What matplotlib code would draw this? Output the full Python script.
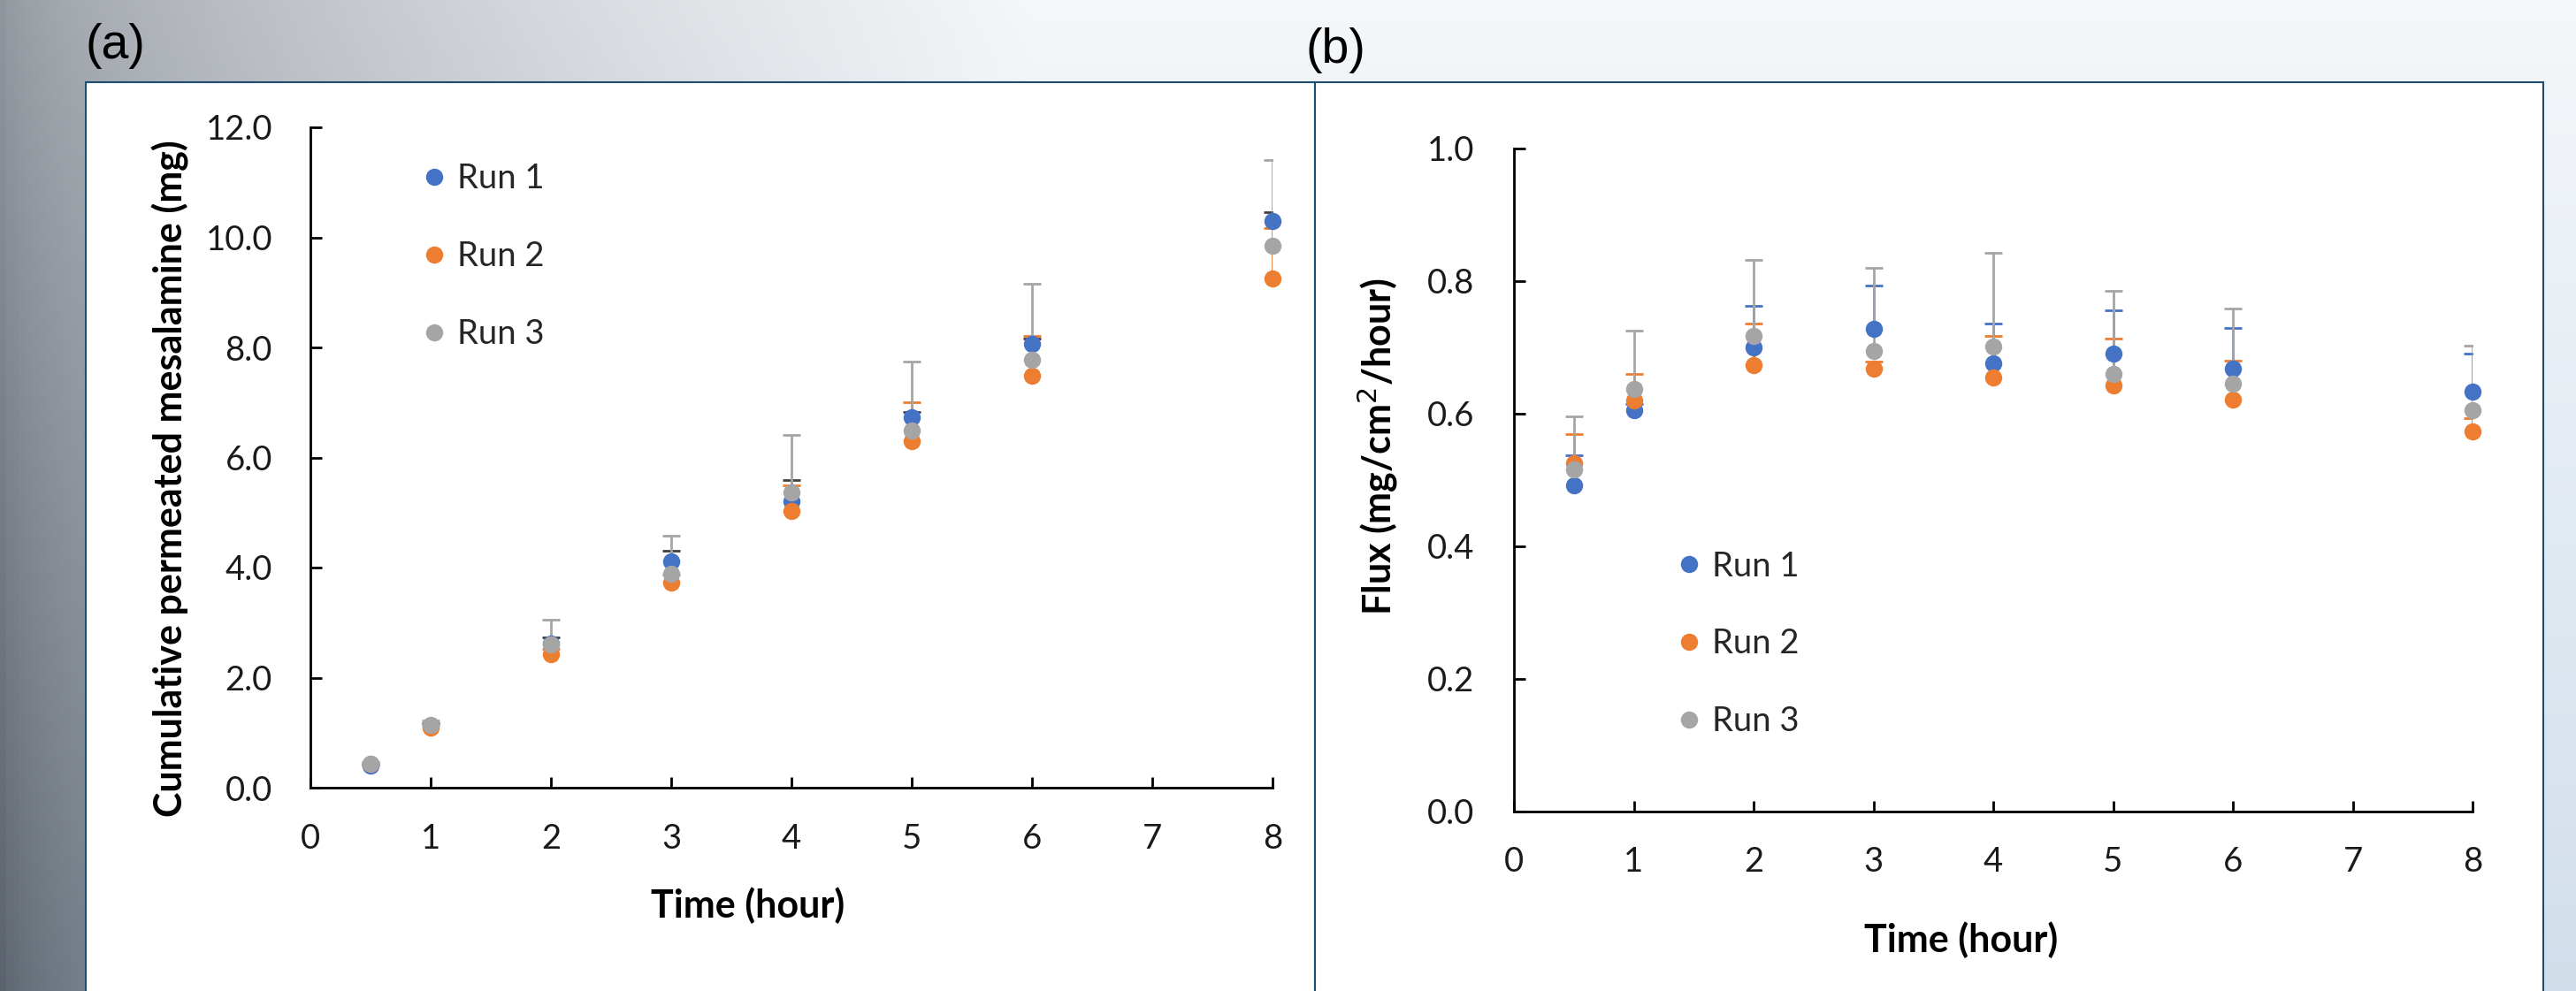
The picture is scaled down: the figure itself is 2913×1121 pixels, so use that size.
import matplotlib.pyplot as plt
import numpy as np
from matplotlib.patches import Rectangle

plt.rcParams['font.family'] = ['Lato', 'DejaVu Sans']

# sampling times (hour)
time = [0.5, 1, 2, 3, 4, 5, 6, 8]
runs = ['Run 1', 'Run 2', 'Run 3']

# (a) cumulative permeated mesalamine (mg)
cum_run1 = [0.40, 1.12, 2.62, 4.11, 5.21, 6.73, 8.06, 10.30]
cum_run2 = [0.44, 1.10, 2.42, 3.72, 5.03, 6.30, 7.49, 9.26]
cum_run3 = [0.43, 1.14, 2.60, 3.89, 5.37, 6.49, 7.78, 9.84]
cum_err1 = [0.02, 0.05, 0.11, 0.20, 0.38, 0.10, 0.10, 0.15]
cum_err2 = [0.02, 0.05, 0.10, 0.15, 0.46, 0.70, 0.72, 0.91]
cum_err3 = [0.03, 0.08, 0.46, 0.69, 1.04, 1.25, 1.38, 1.56]

# (b) flux (mg/cm2/hour)
flux_run1 = [0.492, 0.605, 0.700, 0.728, 0.676, 0.691, 0.668, 0.634]
flux_run2 = [0.525, 0.620, 0.673, 0.668, 0.655, 0.643, 0.622, 0.573]
flux_run3 = [0.516, 0.637, 0.717, 0.695, 0.702, 0.660, 0.645, 0.606]
flux_err1 = [0.046, 0.010, 0.063, 0.065, 0.060, 0.065, 0.061, 0.057]
flux_err2 = [0.044, 0.040, 0.063, 0.010, 0.062, 0.070, 0.058, 0.020]
flux_err3 = [0.080, 0.088, 0.115, 0.125, 0.141, 0.125, 0.114, 0.097]

colors = ['#4472C4', '#ED7D31', '#A5A5A5']

W, H = 2913, 1121
fig = plt.figure(figsize=(W / 100, H / 100), dpi=100)

# background gradient
bg = fig.add_axes([0, 0, 1, 1])
bg.set_zorder(-5)
nx, ny = 400, 200
gx = np.linspace(0, 1, nx)[None, :, None]
gy = np.linspace(0, 1, ny)[:, None, None]
left_c = np.array([0.57, 0.59, 0.62]) * (1 - gy) + np.array([0.36, 0.39, 0.43]) * gy
light_c = np.array([0.96, 0.97, 0.98]) * (1 - gy) + np.array([0.82, 0.87, 0.92]) * gy
t = np.clip(gx / 0.4, 0, 1) ** 0.6
img = left_c * (1 - t) + light_c * t
bg.imshow(img, extent=[0, 1, 0, 1], aspect='auto', origin='upper')
bg.set_xlim(0, 1)
bg.set_ylim(0, 1)
bg.axis('off')

# white panel boxes
for x0, x1 in [(97, 1487), (1487, 2876)]:
    bg.add_patch(Rectangle((x0 / W, -0.01), (x1 - x0) / W, 1.01 - 93 / H,
                           facecolor='white', edgecolor='#1d4e6f', linewidth=1.5, zorder=3))

fig.text(96 / W, 1 - 52 / H, '(a)', fontsize=40, family=['Liberation Sans', 'DejaVu Sans'],
         ha='left', va='center', color='black')
fig.text(1477 / W, 1 - 57 / H, '(b)', fontsize=40, family=['Liberation Sans', 'DejaVu Sans'],
         ha='left', va='center', color='black')

axA = fig.add_axes([351 / W, 1 - 891 / H, 1088 / W, 747 / H])
axB = fig.add_axes([1712 / W, 1 - 918 / H, 1084 / W, 750 / H])


def draw(ax, vals, errs, ecols):
    handles = []
    for v, e, c, ec, lab in zip(vals, errs, colors, ecols, runs):
        eb = ax.errorbar(time, v, yerr=[np.zeros(len(e)), e], fmt='none', ecolor=ec,
                         elinewidth=2.0, capsize=7, capthick=2.0, zorder=2)
        eb[1][0].set_visible(False)
        h, = ax.plot(time, v, 'o', ls='none', color=c, markersize=14,
                     markeredgewidth=0, label=lab, zorder=3, clip_on=False)
        handles.append(h)
    return handles


hA = draw(axA, [cum_run1, cum_run2, cum_run3], [cum_err1, cum_err2, cum_err3],
          ['#404040', colors[1], colors[2]])
hB = draw(axB, [flux_run1, flux_run2, flux_run3], [flux_err1, flux_err2, flux_err3], colors)

axA.set_ylim(0, 12)
axA.set_yticks(np.arange(0, 12.1, 2))
axA.set_yticklabels(['%.1f' % v for v in np.arange(0, 12.1, 2)])
axB.set_ylim(0, 1.0)
axB.set_yticks(np.arange(0, 1.01, 0.2))
axB.set_yticklabels(['%.1f' % v for v in np.arange(0, 1.01, 0.2)])

for ax, xpad, ypad in [(axA, 29, 31), (axB, 28, 32)]:
    ax.set_xlim(0, 8)
    ax.set_xticks(range(9))
    ax.set_facecolor('none')
    for s in ['top', 'right']:
        ax.spines[s].set_visible(False)
    for s in ['left', 'bottom']:
        ax.spines[s].set_linewidth(2.0)
        ax.spines[s].set_color('black')
    ax.tick_params(axis='both', direction='in', length=9, width=2.0, labelsize=27.5,
                   labelcolor='#1a1a1a')
    ax.tick_params(axis='x', pad=xpad)
    ax.tick_params(axis='y', pad=ypad)

fig.text(846 / W, 1 - 1024 / H, 'Time (hour)', fontsize=31, fontweight='bold',
         ha='center', va='center')
fig.text(2218 / W, 1 - 1063 / H, 'Time (hour)', fontsize=31, fontweight='bold',
         ha='center', va='center')
fig.text(193 / W, 1 - 541 / H, 'Cumulative permeated mesalamine (mg)', fontsize=31,
         fontweight='bold', rotation=90, ha='center', va='center')
fig.text(1558 / W, 1 - 505 / H, 'Flux (mg/cm$^2$/hour)', fontsize=31,
         fontweight='bold', rotation=90, ha='center', va='center')

for ax, hs, anchor in [(axA, hA, (0.118, 0.946)), (axB, hB, (0.172, 0.394))]:
    leg = ax.legend(handles=hs, loc='upper left', bbox_to_anchor=anchor, frameon=False,
                    fontsize=27.5, handlelength=0.6, handletextpad=0.38, labelspacing=1.36,
                    borderpad=0, borderaxespad=0, numpoints=1)
    for tx in leg.get_texts():
        tx.set_color('#262626')

fig.savefig('out.png', dpi=100)
